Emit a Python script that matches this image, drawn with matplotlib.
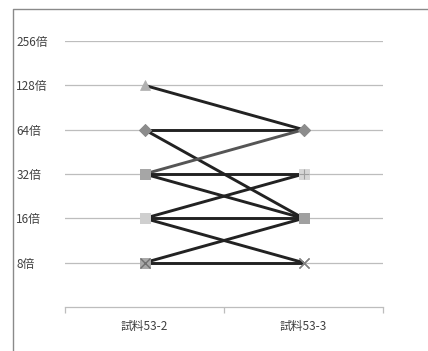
import matplotlib
matplotlib.use('Agg')
import matplotlib.pyplot as plt
from matplotlib.lines import Line2D

plt.rcParams['font.family'] = ['Noto Sans CJK JP', 'DejaVu Sans']

# categories and series values (titer, 倍)
categories = ['試料53-2', '試料53-3']
start_vals = [128, 64, 64, 32, 32, 32, 16, 16, 16, 8, 8]
end_vals = [64, 64, 16, 64, 32, 16, 32, 16, 8, 16, 8]
line_colors = ['#222222', '#222222', '#222222', '#555555', '#222222', '#222222',
               '#222222', '#222222', '#222222', '#222222', '#222222']
start_markers = ['^', 'D', 'D', 's', 's', 's', 's', 's', 's', 's', 's']
end_markers = ['D', 'D', 's', 'D', 's', 's', 's', 's', 'x', 's', 'x']
yticks = [8, 16, 32, 64, 128, 256]
ytick_labels = ['8倍', '16倍', '32倍', '64倍', '128倍', '256倍']

marker_color = {128: '#b0b0b0', 64: '#8c8c8c', 32: '#a6a6a6', 16: '#cfcfcf', 8: '#a8a8a8'}
end_marker_color = {64: '#8c8c8c', 32: '#d6d6d6', 16: '#a0a0a0', 8: '#808080'}

W, H = 428, 351
fig = plt.figure(figsize=(W / 100, H / 100), dpi=100)
ax = fig.add_axes([65 / W, 1 - 307 / H, 318 / W, (307 - 41) / H])

x = list(range(len(categories)))
for s, e, c in zip(start_vals, end_vals, line_colors):
    ax.plot(x, [s, e], color=c, linewidth=2.1, solid_capstyle='butt', zorder=3)

# markers
for s, m in zip(start_vals, start_markers):
    ax.plot(0, s, marker=m, markersize=7.5 if m != 'D' else 6,
            color=marker_color[s], markeredgewidth=0.5, zorder=4)
ax.plot(0, 8, marker='x', markersize=7, color='#707070', markeredgewidth=1.0, zorder=5)
for e, m in zip(end_vals, end_markers):
    ax.plot(1, e, marker=m, markersize=7.5 if m != 'D' else 6,
            color=end_marker_color[e], markeredgewidth=1.0 if m == 'x' else 0.5, zorder=4)
ax.plot(1, 32, marker='+', markersize=7.5, color='#a0a0a0', markeredgewidth=0.8, zorder=5)

ax.set_yscale('log', base=2)
ax.set_ylim(4, 256)
ax.set_xlim(-0.5, 1.5)
ax.set_yticks(yticks)
ax.set_yticklabels(ytick_labels)
ax.minorticks_off()
ax.yaxis.grid(True, color='#bdbdbd', linewidth=0.9)
ax.set_axisbelow(True)
ax.tick_params(axis='y', length=0, pad=35, labelsize=8.5, labelcolor='#404040')
for lab in ax.get_yticklabels():
    lab.set_horizontalalignment('left')

ax.set_xticks([-0.5, 0.5, 1.5])
ax.set_xticklabels([])
ax.set_xticks(x, minor=True)
ax.set_xticklabels(categories, minor=True)
ax.tick_params(axis='x', which='major', length=4, color='#bdbdbd', width=0.9, direction='out')
ax.tick_params(axis='x', which='minor', length=0, pad=9, labelsize=8.5, labelcolor='#404040')

for sp in ['top', 'right', 'left']:
    ax.spines[sp].set_visible(False)
ax.spines['bottom'].set_color('#bdbdbd')
ax.spines['bottom'].set_linewidth(0.9)

# outer frame (only top and left visible in the crop)
fig.add_artist(Line2D([13 / W, 13 / W, 1.0], [0.0, 1 - 9 / H, 1 - 9 / H],
                      color='#8a8a8a', linewidth=1.0, transform=fig.transFigure))

fig.savefig('out.png', dpi=100)
